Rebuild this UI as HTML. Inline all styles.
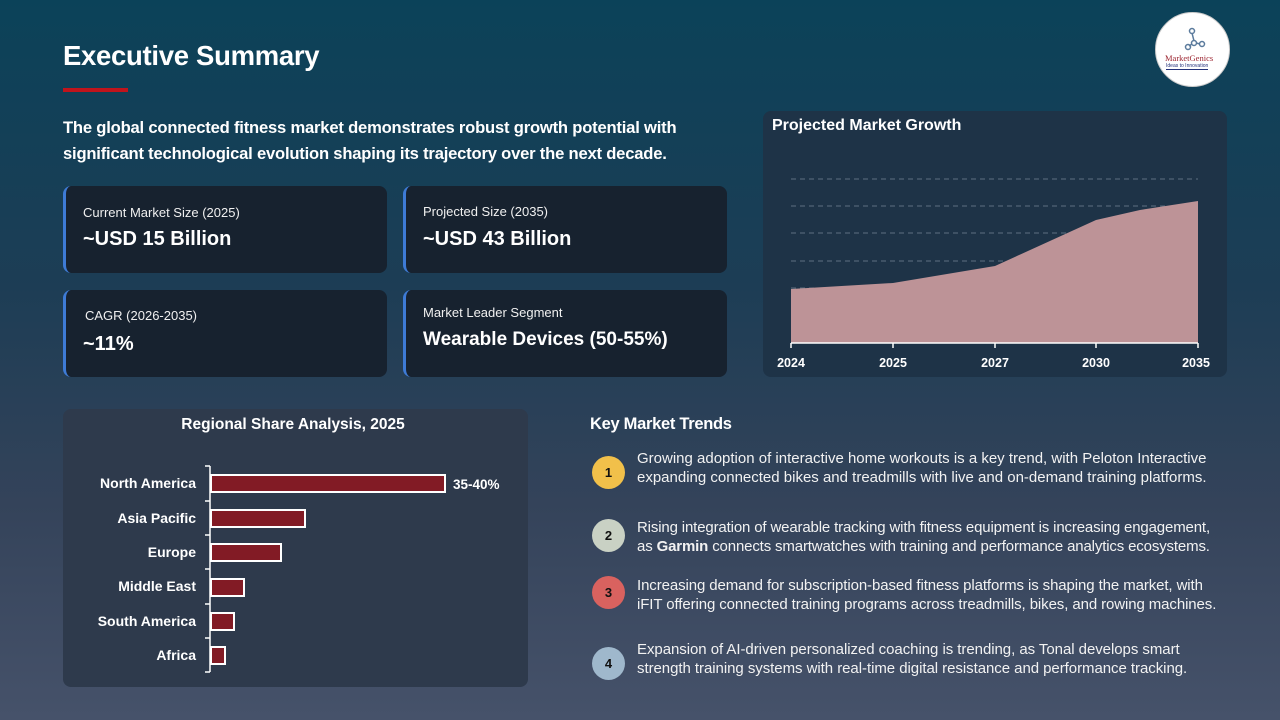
<!DOCTYPE html>
<html><head><meta charset="utf-8"><style>
*{margin:0;padding:0;box-sizing:border-box}
body{width:1280px;height:720px;overflow:hidden;font-family:"Liberation Sans",sans-serif;color:#fff;
background:linear-gradient(180deg,#0b4259 0%,#1d3d55 40%,#34435a 70%,#46526a 100%);position:relative}
.a{position:absolute;white-space:nowrap}
.card{position:absolute;background:#17222f;border-radius:8px;border-left:3px solid #3e7bd6;width:324px;height:87px}
.card .l{position:absolute;left:17px;font-size:13px;color:#f0f0f0}
.card .v{position:absolute;left:17px;font-size:20px;font-weight:bold}
.tr{position:absolute;left:637px;font-size:15px;line-height:19px;color:#f2f2f2;white-space:nowrap}
.c{position:absolute;left:592px;width:33px;height:33px;border-radius:50%;color:#111;font-weight:bold;font-size:13px;text-align:center;line-height:33px}
</style></head><body>
<div class="a" style="left:63px;top:40px;font-size:27.5px;font-weight:bold;letter-spacing:-0.3px">Executive Summary</div>
<div class="a" style="left:63px;top:88px;width:65px;height:4px;background:#c0141c"></div>
<div class="a" style="left:63px;top:115px;font-size:16.6px;font-weight:bold;line-height:26px;letter-spacing:-0.2px">The global connected fitness market demonstrates robust growth potential with<br>significant technological evolution shaping its trajectory over the next decade.</div>
<div style="position:absolute;left:1155px;top:12px;width:75px;height:75px;border-radius:50%;background:#fff;border:1px solid #ccc">
<svg width="75" height="75" style="position:absolute;left:0;top:0"><g stroke="#5a7a9c" stroke-width="1.5" fill="none"><circle cx="36" cy="18" r="2.5"/><circle cx="38" cy="30" r="2.5"/><circle cx="32" cy="34" r="2.5"/><circle cx="46" cy="31" r="2.5"/><path d="M36 20 L38 28 M36 31 L33 33 M40 30 L44 31"/></g></svg>
<div class="a" style="left:9px;top:40px;font-size:8.5px;color:#9c2430;font-family:'Liberation Serif',serif">MarketGenics</div>
<div class="a" style="left:10px;top:50px;font-size:5px;color:#23317a;border-bottom:1px solid #23317a">Ideas to Innovation</div>
</div>
<div class="card" style="left:63px;top:186px"><div class="l" style="top:19px">Current Market Size (2025)</div><div class="v" style="top:42px">~USD 15 Billion</div></div>
<div class="card" style="left:403px;top:186px"><div class="l" style="top:18px">Projected Size (2035)</div><div class="v" style="top:42px">~USD 43 Billion</div></div>
<div class="card" style="left:63px;top:290px"><div class="l" style="top:18px;left:19px">CAGR (2026-2035)</div><div class="v" style="top:43px">~11%</div></div>
<div class="card" style="left:403px;top:290px"><div class="l" style="top:15px">Market Leader Segment</div><div class="v" style="top:39px;font-size:19px">Wearable Devices (50-55%)</div></div>

<div style="position:absolute;left:763px;top:111px;width:464px;height:266px;background:#1e3347;border-radius:8px"></div>
<div class="a" style="left:772px;top:117px;font-size:16px;font-weight:bold">Projected Market Growth</div>
<svg width="1280" height="720" style="position:absolute;left:0;top:0">
<g stroke="#5d6f80" stroke-dasharray="5,4" stroke-width="1"><line x1="791" x2="1198" y1="179" y2="179"/><line x1="791" x2="1198" y1="206" y2="206"/><line x1="791" x2="1198" y1="233" y2="233"/><line x1="791" x2="1198" y1="261" y2="261"/><line x1="791" x2="1198" y1="288" y2="288"/><line x1="791" x2="1198" y1="315" y2="315"/></g>
<path d="M791 289 L893 283 L995 266 L1096 220 L1140 210 L1198 201 L1198 343 L791 343 Z" fill="#bd9397"/>
<g stroke="#fff" stroke-width="1.5"><line x1="791" x2="1198" y1="343" y2="343"/><line x1="791" x2="791" y1="343" y2="348"/><line x1="893" x2="893" y1="343" y2="348"/><line x1="995" x2="995" y1="343" y2="348"/><line x1="1096" x2="1096" y1="343" y2="348"/><line x1="1198" x2="1198" y1="343" y2="348"/></g>
<g fill="#fff" font-size="12.5" font-weight="bold" text-anchor="middle" font-family="Liberation Sans"><text x="791" y="367">2024</text><text x="893" y="367">2025</text><text x="995" y="367">2027</text><text x="1096" y="367">2030</text><text x="1196" y="367">2035</text></g>
</svg>

<div style="position:absolute;left:63px;top:409px;width:465px;height:278px;background:#2e3a4c;border-radius:8px"></div>
<svg width="1280" height="720" style="position:absolute;left:0;top:0">
<text x="293" y="429" fill="#fff" font-size="15.5" font-weight="bold" text-anchor="middle" font-family="Liberation Sans">Regional Share Analysis, 2025</text>
<g stroke="#fff" stroke-width="1.5"><line x1="210" x2="210" y1="466" y2="672"/><line x1="205" x2="210" y1="466" y2="466"/><line x1="205" x2="210" y1="501" y2="501"/><line x1="205" x2="210" y1="535" y2="535"/><line x1="205" x2="210" y1="569" y2="569"/><line x1="205" x2="210" y1="604" y2="604"/><line x1="205" x2="210" y1="638" y2="638"/><line x1="205" x2="210" y1="672" y2="672"/></g>
<g fill="#821b25" stroke="#fff" stroke-width="2"><rect x="211" y="475" width="234" height="17"/><rect x="211" y="510" width="94" height="17"/><rect x="211" y="544" width="70" height="17"/><rect x="211" y="579" width="33" height="17"/><rect x="211" y="613" width="23" height="17"/><rect x="211" y="647" width="14" height="17"/></g>
<g fill="#fff" font-size="14" font-weight="bold" text-anchor="end" font-family="Liberation Sans"><text x="196" y="488">North America</text><text x="196" y="523">Asia Pacific</text><text x="196" y="557">Europe</text><text x="196" y="591">Middle East</text><text x="196" y="626">South America</text><text x="196" y="660">Africa</text></g>
<text x="453" y="489" fill="#fff" font-size="13.5" font-weight="bold" font-family="Liberation Sans">35-40%</text>
</svg>

<div class="a" style="left:590px;top:415px;font-size:16.5px;font-weight:bold;letter-spacing:-0.3px">Key Market Trends</div>
<div class="c" style="top:456px;background:#f1c04a">1</div>
<div class="c" style="top:519px;background:#c9d1c4">2</div>
<div class="c" style="top:576px;background:#d9625f">3</div>
<div class="c" style="top:647px;background:#9fb8cc">4</div>
<div class="tr" style="top:449px;letter-spacing:0px">Growing adoption of interactive home workouts is a key trend, with Peloton Interactive<br>expanding connected bikes and treadmills with live and on-demand training platforms.</div>
<div class="tr" style="top:518px;letter-spacing:-0.15px">Rising integration of wearable tracking with fitness equipment is increasing engagement,<br>as <b>Garmin</b> connects smartwatches with training and performance analytics ecosystems.</div>
<div class="tr" style="top:576px;letter-spacing:-0.1px">Increasing demand for subscription-based fitness platforms is shaping the market, with<br>iFIT offering connected training programs across treadmills, bikes, and rowing machines.</div>
<div class="tr" style="top:640px;letter-spacing:-0.05px">Expansion of AI-driven personalized coaching is trending, as Tonal develops smart<br>strength training systems with real-time digital resistance and performance tracking.</div>
</body></html>
